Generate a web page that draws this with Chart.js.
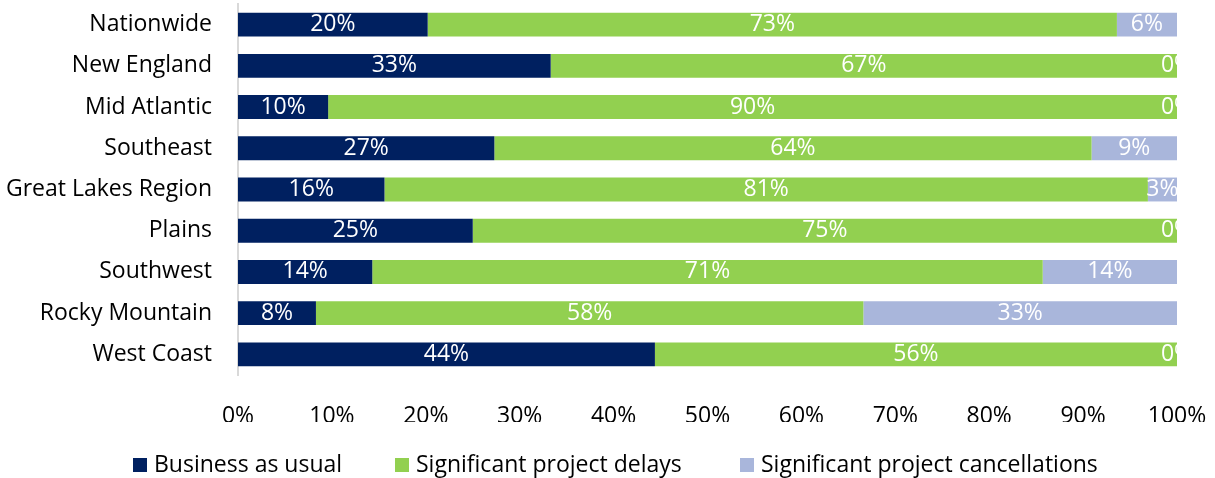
<!DOCTYPE html>
<html>
<head>
<meta charset="utf-8">
<script src="https://cdn.jsdelivr.net/npm/chart.js@4"></script>
<style>
    html, body { margin: 0; padding: 0; background: #fff; }
    #wrap { width: 1215px; height: 478px; }
</style>
</head>
<body>
<div id="wrap"><canvas id="chart"></canvas></div>
<script>
// --- Data ---
const regions = ['Nationwide', 'New England', 'Mid Atlantic', 'Southeast', 'Great Lakes Region',
    'Plains', 'Southwest', 'Rocky Mountain', 'West Coast'];
const businessAsUsual = [20.2, 33.3, 9.6, 27.3, 15.6, 25.0, 14.3, 8.3, 44.4];
const projectDelays = [73.4, 66.7, 90.4, 63.6, 81.3, 75.0, 71.4, 58.3, 55.6];
const projectCancellations = [6.4, 0, 0, 9.1, 3.1, 0, 14.3, 33.4, 0];
const xTicks = ['0%', '10%', '20%', '30%', '40%', '50%', '60%', '70%', '80%', '90%', '100%'];

const FONT = '"Open Sans", Lato, sans-serif';
const FONT_SIZE = 23;
const COLORS = ['#002060', '#92D050', '#A9B6DB'];

// --- Plugins ---
// segment value labels, clipped to the plot area like the original
const barLabels = {
    id: 'barLabels',
    afterDatasetsDraw(chart) {
        const { ctx, chartArea } = chart;
        ctx.save();
        ctx.beginPath();
        ctx.rect(chartArea.left, chartArea.top, chartArea.right - chartArea.left, chartArea.bottom - chartArea.top);
        ctx.clip();
        ctx.fillStyle = '#fff';
        ctx.font = FONT_SIZE + 'px ' + FONT;
        ctx.textAlign = 'center';
        ctx.textBaseline = 'middle';
        chart.data.datasets.forEach((ds, i) => {
            chart.getDatasetMeta(i).data.forEach((bar, j) => {
                const x = (bar.x + bar.base) / 2;
                ctx.fillText(Math.round(ds.data[j]) + '%', x, bar.y);
            });
        });
        ctx.restore();
    }
};

// legend drawn by hand so the spacing matches
const bottomLegend = {
    id: 'bottomLegend',
    afterDraw(chart) {
        const { ctx } = chart;
        const starts = [133, 395, 740];
        const y = 465;
        ctx.save();
        ctx.font = FONT_SIZE + 'px ' + FONT;
        ctx.textBaseline = 'middle';
        chart.data.datasets.forEach((ds, i) => {
            ctx.fillStyle = ds.backgroundColor;
            ctx.fillRect(starts[i], y - 7, 14, 14);
            ctx.fillStyle = '#000';
            ctx.fillText(ds.label, starts[i] + 21, y);
        });
        ctx.restore();
    }
};

// --- Chart ---
new Chart(document.getElementById('chart'), {
    type: 'bar',
    data: {
        labels: regions,
        datasets: [
            { label: 'Business as usual', data: businessAsUsual, backgroundColor: COLORS[0] },
            { label: 'Significant project delays', data: projectDelays, backgroundColor: COLORS[1] },
            { label: 'Significant project cancellations', data: projectCancellations, backgroundColor: COLORS[2] }
        ]
    },
    options: {
        indexAxis: 'y',
        responsive: true,
        maintainAspectRatio: false,
        animation: false,
        layout: { padding: { top: 4, right: 38, bottom: 56, left: 0 } },
        datasets: { bar: { categoryPercentage: 0.58, barPercentage: 1, borderWidth: 0 } },
        scales: {
            x: {
                stacked: true,
                min: 0,
                max: 100,
                grid: { display: false },
                border: { display: false },
                // tick padding would otherwise push the plot edges inwards
                afterFit: s => { s.height = 47; s.paddingLeft = 0; s.paddingRight = 0; },
                ticks: {
                    stepSize: 10,
                    padding: 20,
                    color: '#000',
                    font: { family: FONT, size: FONT_SIZE },
                    maxRotation: 0,
                    callback: (v, i) => xTicks[i]
                }
            },
            y: {
                stacked: true,
                grid: { display: false, drawTicks: false },
                border: { display: true, color: '#D9D9D9', width: 2 },
                afterFit: s => { s.width = 238; s.paddingTop = 0; s.paddingBottom = 0; },
                ticks: {
                    padding: 26,
                    color: '#000',
                    font: { family: FONT, size: FONT_SIZE }
                }
            }
        },
        plugins: {
            legend: { display: false },
            tooltip: { enabled: false }
        }
    },
    plugins: [barLabels, bottomLegend]
});
</script>
</body>
</html>
